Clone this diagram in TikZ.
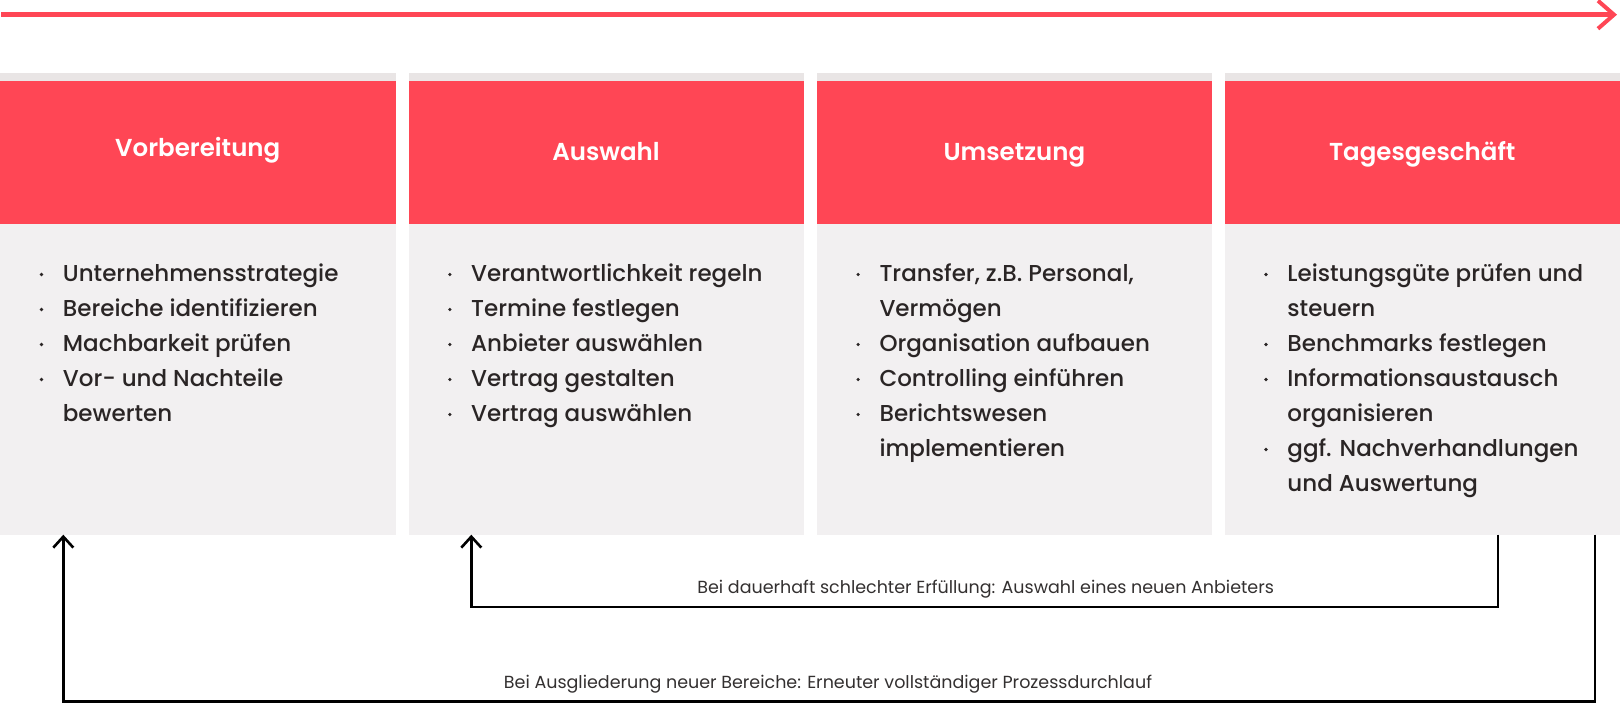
\documentclass[tikz,border=0pt]{standalone}
\usepackage{fontspec}
\setmainfont{Poppins}
\newfontfamily\titlefont{Poppins SemiBold}
\newfontfamily\bodyfont{Poppins Medium}
\usetikzlibrary{arrows.meta}
\definecolor{cred}{HTML}{FF4655}
\definecolor{cstrip}{HTML}{E9E5E5}
\definecolor{cbody}{HTML}{F2F0F1}
\definecolor{ctext}{HTML}{2A2525}
\definecolor{clabel}{HTML}{333030}
\tikzset{
  stripbox/.style={fill=cstrip, draw=none, inner sep=0pt, anchor=north west, minimum width=395.5bp, minimum height=8.3bp},
  headbox/.style={fill=cred, draw=none, inner sep=0pt, anchor=north west, minimum width=395.5bp, minimum height=142.7bp},
  bodybox/.style={fill=cbody, draw=none, inner sep=0pt, anchor=north west, minimum width=395.5bp, minimum height=310.7bp},
  titletext/.style={text=white, inner sep=0pt, anchor=base, font=\titlefont\fontsize{24.5bp}{30bp}\selectfont},
  bodytext/.style={text=ctext, inner sep=0pt, anchor=base west, font=\bodyfont\fontsize{23bp}{35bp}\selectfont},
  labeltext/.style={text=clabel, inner sep=0pt, anchor=base, font=\fontsize{17.5bp}{20bp}\selectfont},
  bulletdot/.style={circle, fill=ctext, inner sep=0pt, minimum size=3.6bp},
  backline/.style={draw=black, line width=2.6bp, -{Straight Barb[length=11bp, width=20bp, line width=2.6bp]}},
}
\newcommand\mklist[3]{%
  \foreach \myflag/\mytxt [count=\myi from 0] in {#3} {
    \node[bodytext] (l#1-\myi) at (#2+62.7, 281.7+35*\myi) {\mytxt};
    \ifnum\myflag=1
      \node[bulletdot] (d#1-\myi) at (#2+41.5, 274.5+35*\myi) {};
    \fi
  }%
}
\begin{document}
\begin{tikzpicture}[x=1bp,y=-1bp]
\useasboundingbox (0,0) rectangle (1620,704);
% timeline arrow
\coordinate (tlstart) at (1,14.7);
\coordinate (tlend) at (1617,14.7);
\draw[cred, line width=4.8bp, -{Straight Barb[length=16bp, width=28bp, line width=4bp]}] (tlstart) -- (tlend);
% boxes
\foreach \n/\x in {1/0, 2/408.3, 3/816.6, 4/1224.5} {
  \node[stripbox] (s\n) at (\x,73) {};
  \node[headbox] (h\n) at (\x,81.3) {};
  \node[bodybox] (b\n) at (\x,224) {};
}
% titles
\node[titletext] (t1) at (197.75,156.7) {Vorbereitung};
\node[titletext] (t2) at (606.05,160.7) {Auswahl};
\node[titletext] (t3) at (1014.35,160.7) {Umsetzung};
\node[titletext] (t4) at (1422.25,160.7) {Tagesgeschäft};
% body lists
\mklist{1}{0}{1/Unternehmensstrategie, 1/Bereiche identifizieren, 1/Machbarkeit prüfen, 1/Vor- und Nachteile, 0/bewerten}
\mklist{2}{408.3}{1/Verantwortlichkeit regeln, 1/Termine festlegen, 1/Anbieter auswählen, 1/Vertrag gestalten, 1/Vertrag auswählen}
\mklist{3}{816.6}{1/{Transfer, z.B. Personal,}, 0/Vermögen, 1/Organisation aufbauen, 1/Controlling einführen, 1/Berichtswesen, 0/implementieren}
\mklist{4}{1224.5}{1/Leistungsgüte prüfen und, 0/steuern, 1/Benchmarks festlegen, 1/Informationsaustausch, 0/organisieren, 1/ggf. Nachverhandlungen, 0/und Auswertung}
% feedback connectors
\coordinate (fa-s) at (1498,534.7);
\coordinate (fa-e) at (471.3,534.7);
\coordinate (fb-s) at (1595,534.7);
\coordinate (fb-e) at (63.3,534.7);
\draw[backline] (fa-s) -- ++(0,72.3) -| (fa-e);
\draw[backline] (fb-s) -- ++(0,167) -| (fb-e);
\node[labeltext] (la) at (985.7,593) {Bei dauerhaft schlechter Erfüllung: Auswahl eines neuen Anbieters};
\node[labeltext] (lb) at (828,688) {Bei Ausgliederung neuer Bereiche: Erneuter vollständiger Prozessdurchlauf};
\end{tikzpicture}
\end{document}
